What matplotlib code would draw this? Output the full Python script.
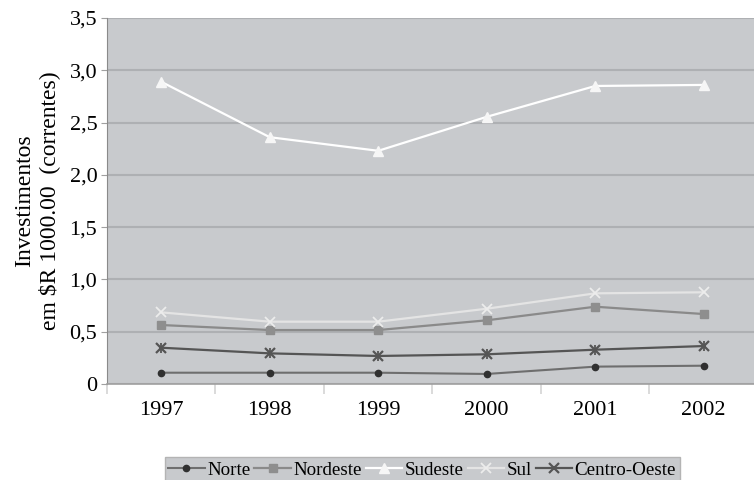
import numpy as np
import matplotlib.pyplot as plt

plt.rcParams['font.family'] = ['Liberation Serif', 'DejaVu Serif']

# data
anos = ['1997', '1998', '1999', '2000', '2001', '2002']
norte = [0.108, 0.108, 0.108, 0.096, 0.166, 0.175]
nordeste = [0.564, 0.516, 0.516, 0.609, 0.739, 0.669]
sudeste = [2.89, 2.36, 2.23, 2.555, 2.85, 2.86]
sul = [0.685, 0.596, 0.596, 0.72, 0.867, 0.877]
centro_oeste = [0.347, 0.293, 0.268, 0.284, 0.328, 0.363]
y_ticks = [0, 0.5, 1.0, 1.5, 2.0, 2.5, 3.0, 3.5]
y_labels = ['0', '0,5', '1,0', '1,5', '2,0', '2,5', '3,0', '3,5']

fig = plt.figure(figsize=(7.54, 4.8), dpi=100)
# plot area runs slightly past the right edge of the picture
ax = fig.add_axes([0.1419, 0.2, 0.8634, 0.7625])
ax.set_facecolor('#c8cacd')

x = np.arange(len(anos))
ax.plot(x, norte, color='#6e6e6e', lw=1.5, marker='o', ms=4.5,
        mfc='#303030', mec='#303030', label='Norte')
ax.plot(x, nordeste, color='#8a8a8a', lw=1.6, marker='s', ms=6,
        mfc='#8e8e8e', mec='#8e8e8e', label='Nordeste')
ax.plot(x, sudeste, color='white', lw=1.6, marker='^', ms=7,
        mfc='#f6f6f6', mec='#f6f6f6', label='Sudeste')
ax.plot(x, sul, color='#e4e4e4', lw=1.6, marker='x', ms=7, mew=1.3,
        mec='#ececec', label='Sul')
ax.plot(x, centro_oeste, color='#555555', lw=1.6, marker='x', ms=7, mew=1.6,
        label='Centro-Oeste')
# vertical stroke turns the x into an asterisk
ax.plot(x, centro_oeste, ls='none', marker='|', ms=7, mew=1.3, color='#555555')

ax.set_xlim(-0.5, 5.5)
ax.set_ylim(0, 3.5)
ax.set_yticks(y_ticks)
ax.set_yticklabels(y_labels)
ax.set_xticks(x)
ax.set_xticklabels(anos)
ax.set_xticks(np.arange(-0.5, 6.0, 1.0), minor=True)
ax.tick_params(axis='x', which='major', length=0, pad=12, labelsize=16)
ax.tick_params(axis='x', which='minor', length=7, color='#d4d4d4', width=1.2,
               direction='out')
ax.tick_params(axis='y', length=4, color='#a0a0a0', labelsize=16, pad=3)

ax.grid(axis='y', color='#aeb0b3', lw=1.5)
ax.set_axisbelow(True)
for s in ['top', 'right']:
    ax.spines[s].set_visible(False)
ax.spines['left'].set_color('#8a8a8a')
ax.spines['bottom'].set_color('#a0a0a0')
ax.spines['bottom'].set_linewidth(1.2)

ax.set_ylabel('Investimentos\nem \\$R 1000.00  (correntes)', fontsize=17,
              labelpad=7, linespacing=1.15)

leg = fig.legend(*ax.get_legend_handles_labels(), loc='lower center',
                 bbox_to_anchor=(0.56, -0.005), ncol=5, fontsize=13.7,
                 frameon=True, fancybox=False, handlelength=1.9,
                 handletextpad=0.15, columnspacing=0.2, borderpad=0.2,
                 borderaxespad=0.0)
leg.get_frame().set_facecolor('#c8cacd')
leg.get_frame().set_edgecolor('#b4b4b4')
leg.get_frame().set_alpha(1)

fig.savefig('out.png', dpi=100)
